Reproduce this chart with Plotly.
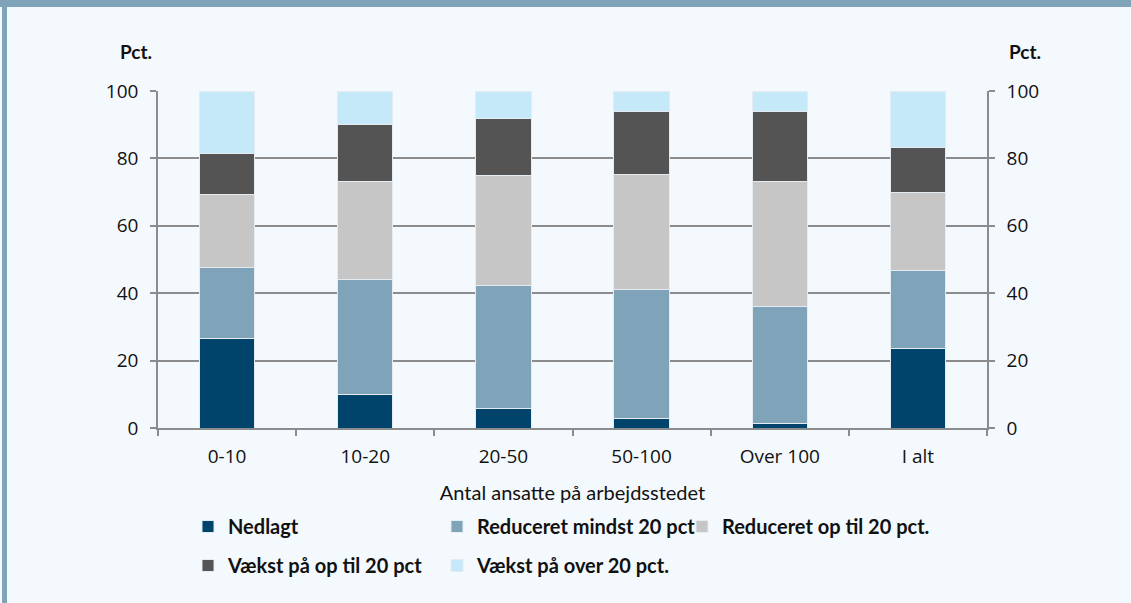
import plotly.graph_objects as go

categories = ["0-10", "10-20", "20-50", "50-100", "Over 100", "I alt"]
nedlagt = [26.5, 9.8, 5.9, 2.8, 1.3, 23.6]
red_mindst = [21.1, 34.4, 36.3, 38.2, 34.7, 23.2]
red_optil = [21.7, 28.8, 32.8, 34.1, 37.0, 23.2]
vaekst_optil = [12.3, 17.0, 16.7, 18.8, 20.8, 13.1]
vaekst_over = [18.4, 10.0, 8.3, 6.1, 6.2, 16.9]

series_names = ["Nedlagt", "Reduceret mindst 20 pct", "Reduceret op til 20 pct.",
                "Vækst på op til 20 pct", "Vækst på over 20 pct."]
series_values = [nedlagt, red_mindst, red_optil, vaekst_optil, vaekst_over]
colors = ["#00446b", "#7fa3b8", "#c6c6c6", "#545454", "#c6e9f9"]
legends = ["legend", "legend2", "legend3", "legend", "legend2"]

W, H = 1131, 603
L, R, T, B = 158, 144, 91, 175
pw, ph = W - L - R, H - T - B

def px_x(x):
    return (x - L) / pw

def px_y(y):
    return (H - B - y) / ph

BG = "#f4f9fd"
GRID = "#8c8c8c"

fig = go.Figure()
for i, (name, vals, col, lg) in enumerate(zip(series_names, series_values, colors, legends)):
    fig.add_trace(go.Bar(
        x=categories, y=vals, name=name, marker_color=col,
        marker_line_color="#e4ecf2", marker_line_width=1,
        width=0.4, legend=lg, legendgroup=name,
    ))
# invisible trace for right axis
fig.add_trace(go.Scatter(x=categories, y=[None]*len(categories), yaxis="y2",
                         showlegend=False, hoverinfo="skip"))

tickfont = dict(family="Open Sans", size=19, color="#111111")
legfont = dict(family="Lato", size=20, color="#111111", weight="bold")

def leg(xpx):
    return dict(x=px_x(xpx), y=px_y(507), xanchor="left", yanchor="top",
                orientation="v", font=legfont, bgcolor="rgba(0,0,0,0)",
                traceorder="grouped", tracegroupgap=10, itemwidth=30)

fig.update_layout(
    width=W, height=H,
    margin=dict(l=L, r=R, t=T, b=B, autoexpand=False),
    paper_bgcolor=BG, plot_bgcolor=BG,
    barmode="stack", bargap=0.6,
    xaxis=dict(
        type="category", showline=True, linecolor=GRID, linewidth=1.5,
        ticks="outside", tickson="boundaries", ticklen=6, tickcolor=GRID, tickwidth=1.5,
        tickfont=tickfont, ticklabelstandoff=10,
        title=dict(text="Antal ansatte på arbejdsstedet",
                   font=dict(family="Lato", size=20, color="#111111"), standoff=18),
        showgrid=False,
    ),
    yaxis=dict(
        range=[0, 100], dtick=20, showline=True, linecolor=GRID, linewidth=1.5,
        ticks="outside", ticklen=6, tickcolor=GRID, tickwidth=1.5,
        showgrid=True, gridcolor=GRID, gridwidth=1.5, zeroline=False,
        tickfont=tickfont, ticklabelstandoff=8,
    ),
    yaxis2=dict(
        range=[0, 100], dtick=20, overlaying="y", side="right",
        showline=True, linecolor=GRID, linewidth=1.5,
        ticks="outside", ticklen=6, tickcolor=GRID, tickwidth=1.5,
        showgrid=False, zeroline=False, tickfont=tickfont, ticklabelstandoff=8,
    ),
    legend=leg(188),
    legend2=leg(437),
    legend3=leg(682),
    showlegend=True,
    annotations=[
        dict(text="<b>Pct.</b>", x=px_x(136), y=px_y(52), xref="paper", yref="paper",
             xanchor="center", yanchor="middle",
             showarrow=False, font=dict(family="Lato", size=19, color="#111111")),
        dict(text="<b>Pct.</b>", x=px_x(1025), y=px_y(52), xref="paper", yref="paper",
             xanchor="center", yanchor="middle",
             showarrow=False, font=dict(family="Lato", size=19, color="#111111")),
    ],
    shapes=[
        dict(type="rect", xref="paper", yref="paper", x0=px_x(0), x1=px_x(W),
             y0=px_y(7), y1=px_y(0), fillcolor="#7fa3b8", line_width=0, layer="above"),
        dict(type="rect", xref="paper", yref="paper", x0=px_x(2), x1=px_x(7),
             y0=px_y(H), y1=px_y(0), fillcolor="#7fa3b8", line_width=0, layer="above"),
    ],
)

fig.write_html("out.html", config={"displayModeBar": False},
               post_script="document.body.style.margin='0';document.body.style.overflow='hidden';")
